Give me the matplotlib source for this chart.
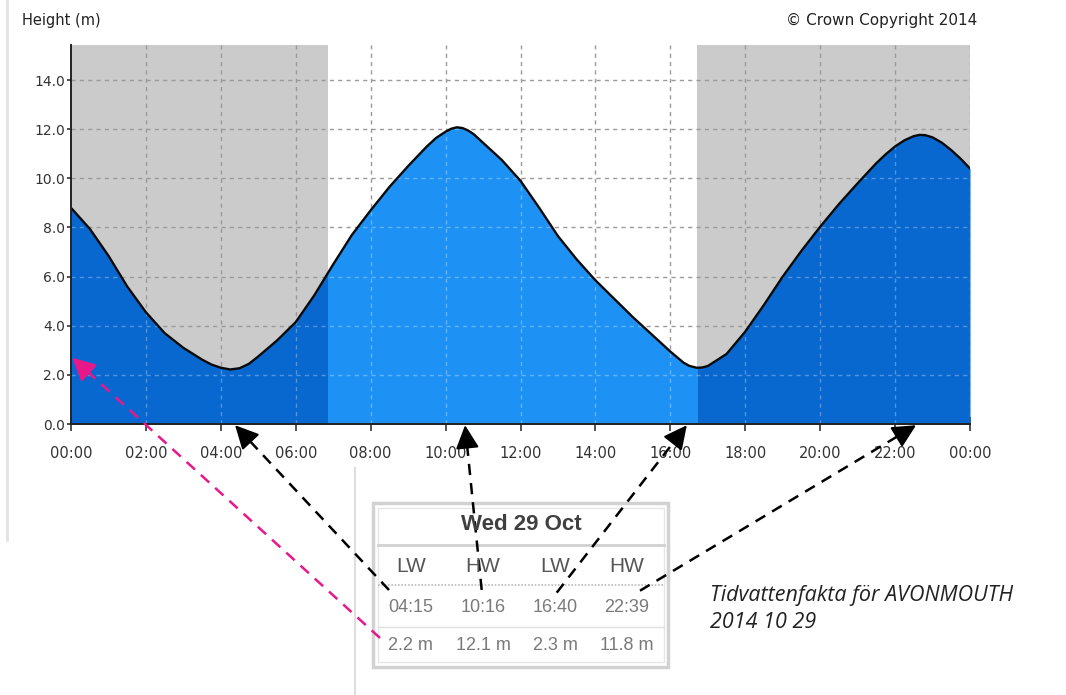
import matplotlib
matplotlib.use("Agg")
import matplotlib.pyplot as plt
from matplotlib.patches import Rectangle
import numpy as np

# ---------------- data ----------------
hours = [0, 0.5, 1, 1.5, 2, 2.5, 3, 3.5, 3.75, 4, 4.25, 4.5, 4.75, 5, 5.5, 6,
         6.5, 7, 7.5, 8, 8.5, 9, 9.5, 9.75, 10, 10.15, 10.3, 10.45, 10.6, 10.75,
         11, 11.5, 12, 12.5, 13, 13.5, 14, 14.5, 15, 15.5, 16, 16.35, 16.5,
         16.7, 16.85, 17, 17.5, 18, 18.5, 19, 19.5, 20, 20.5, 21, 21.5, 21.75,
         22, 22.25, 22.5, 22.65, 22.8, 23, 23.25, 23.5, 23.75, 24]
height = [8.8, 7.95, 6.85, 5.6, 4.55, 3.7, 3.1, 2.62, 2.42, 2.29, 2.22, 2.27,
          2.45, 2.75, 3.4, 4.15, 5.25, 6.5, 7.7, 8.7, 9.65, 10.5, 11.3, 11.65,
          11.9, 12.02, 12.08, 12.05, 11.95, 11.8, 11.45, 10.75, 9.9, 8.8, 7.65,
          6.7, 5.85, 5.1, 4.35, 3.65, 2.95, 2.5, 2.37, 2.29, 2.3, 2.36, 2.85,
          3.76, 4.85, 6.0, 7.05, 8.03, 8.95, 9.8, 10.62, 10.98, 11.3, 11.55,
          11.72, 11.77, 11.76, 11.67, 11.45, 11.15, 10.8, 10.4]
sunrise = 6.86
sunset = 16.71
x_ticks = list(range(0, 25, 2))
x_labels = ["00:00", "02:00", "04:00", "06:00", "08:00", "10:00", "12:00",
            "14:00", "16:00", "18:00", "20:00", "22:00", "00:00"]
y_ticks = [0, 2, 4, 6, 8, 10, 12, 14]

table_title = "Wed 29 Oct"
tide_types = ["LW", "HW", "LW", "HW"]
tide_times = ["04:15", "10:16", "16:40", "22:39"]
tide_heights = [2.2, 12.1, 2.3, 11.8]
# where the hand-drawn arrows point (hours on the time axis)
arrow_tips = [4.38, 10.52, 16.44, 22.56]
caption = "Tidvattenfakta för AVONMOUTH\n2014 10 29"

# ---------------- figure ----------------
W, H = 1066, 695
fig = plt.figure(figsize=(W / 100, H / 100), dpi=100)
fig.patch.set_facecolor("white")

ax_l, ax_r, ax_b, ax_t = 71, 970, 424, 45
ax = fig.add_axes([ax_l / W, 1 - ax_b / H, (ax_r - ax_l) / W, (ax_b - ax_t) / H])
ax.set_xlim(0, 24)
ax.set_ylim(0, 15.43)
ax.set_facecolor("white")

GRAY = "#cbcbcb"
DARK = "#0868cf"
LIGHT = "#1e92f4"

ax.axvspan(0, sunrise, color=GRAY, lw=0, zorder=1)
ax.axvspan(sunset, 24, color=GRAY, lw=0, zorder=1)

dash = (0, (3, 3))
for y in y_ticks[1:]:
    ax.axhline(y, color="#9a9a9a", lw=1, ls=dash, zorder=1.5)
for x in x_ticks[1:]:
    ax.axvline(x, color="#9a9a9a", lw=1, ls=dash, zorder=1.5)

dark = ax.fill_between(hours, height, 0, color=DARK, lw=0, zorder=2)
light = ax.fill_between(hours, height, 0, color=LIGHT, lw=0, zorder=2.1)
day = ax.axvspan(sunrise, sunset, color="none", lw=0)
light.set_clip_path(day)

wpath = dark.get_paths()[0]
for y in y_ticks[1:]:
    ln = ax.axhline(y, color="white", alpha=0.3, lw=1, ls=dash, zorder=2.5)
    ln.set_clip_path(wpath, dark.get_transform())
for x in x_ticks[1:]:
    ln = ax.axvline(x, color="white", alpha=0.3, lw=1, ls=dash, zorder=2.5)
    ln.set_clip_path(wpath, dark.get_transform())

ax.plot(hours, height, color="#0a0a0a", lw=1.7, zorder=3,
        solid_capstyle="round", solid_joinstyle="round")

for s in ["top", "right"]:
    ax.spines[s].set_visible(False)
for s in ["left", "bottom"]:
    ax.spines[s].set_color("#222")
    ax.spines[s].set_linewidth(1.4)
    ax.spines[s].set_zorder(4)

ax.set_xticks(x_ticks)
ax.set_xticklabels(x_labels)
ax.set_yticks(y_ticks)
ax.set_yticklabels([f"{v:.1f}" for v in y_ticks])
ax.tick_params(axis="x", direction="inout", length=10, width=1.2, color="#333",
               pad=11, labelsize=10.5, labelcolor="#333")
ax.tick_params(axis="y", direction="out", length=3, width=1.2, color="#333",
               pad=1.5, labelsize=10, labelcolor="#333")

# ---------------- overlay in pixel coordinates ----------------
ov = fig.add_axes([0, 0, 1, 1], zorder=10)
ov.set_xlim(0, W)
ov.set_ylim(H, 0)
ov.axis("off")
ov.patch.set_alpha(0)

ov.text(22, 20, "Height (m)", fontsize=10.5, color="#222", va="center", ha="left")
ov.text(977, 20, "© Crown Copyright 2014", fontsize=11, color="#222",
        va="center", ha="right")

ov.plot([7, 7], [0, 540], color="#e2e2e2", lw=2)
ov.plot([355, 355], [468, 695], color="#dedede", lw=1.5)

# table
ov.add_patch(Rectangle((373, 503), 295, 164, fill=False, ec="#d2d2d2", lw=2.5))
ov.add_patch(Rectangle((378, 508), 286, 154, fill=False, ec="#e6e6e6", lw=1))
ov.plot([378, 664], [545, 545], color="#d0d0d0", lw=2)
ov.plot([378, 664], [585, 585], color="#bdbdbd", lw=1.2, ls=(0, (1, 1)))
ov.plot([378, 664], [627, 627], color="#e0e0e0", lw=1)

col_x = [410.7, 483, 555, 626.7]
ov.text(521, 525, table_title, fontsize=16, fontweight="bold", color="#404040",
        family="Liberation Sans", ha="center", va="center")
for cx, t, tm, hm in zip(col_x, tide_types, tide_times, tide_heights):
    ov.text(cx, 567, t, fontsize=15, color="#555", family="Liberation Sans",
            ha="center", va="center")
    ov.text(cx, 607, tm, fontsize=13, color="#7a7a7a", family="Liberation Sans",
            ha="center", va="center")
    ov.text(cx, 645, f"{hm:.1f} m", fontsize=13, color="#7a7a7a",
            family="Liberation Sans", ha="center", va="center")

ov.text(710, 609, caption, fontsize=15.5, style="italic", color="#222",
        family="Open Sans", ha="left", va="center", linespacing=1.4)

# arrows: dashed shaft + solid head
fig.canvas.draw()
to_ov = ax.transData + ov.transData.inverted()


def dashed_arrow(start, tip_data, color):
    tx, ty = to_ov.transform(tip_data)
    sx, sy = start
    d = np.hypot(tx - sx, ty - sy)
    ux, uy = (tx - sx) / d, (ty - sy) / d
    head = 16
    bx, by = tx - ux * head, ty - uy * head
    ov.plot([sx, bx + ux * 3], [sy, by + uy * 3], color=color, lw=1.8,
            ls=(0, (4.5, 3.2)), solid_capstyle="butt", dash_capstyle="butt")
    ov.annotate("", xy=(tx, ty), xytext=(bx, by), annotation_clip=False,
                arrowprops=dict(arrowstyle="-|>,head_length=0.8,head_width=0.4",
                                color=color, lw=1.5, shrinkA=0, shrinkB=0,
                                mutation_scale=18))


starts = [(389, 590), (481.7, 590), (556.7, 592.7), (640, 590.7)]
for st, tip in zip(starts, arrow_tips):
    dashed_arrow(st, (tip, -0.05), "black")
dashed_arrow((380, 638), (0.03, 2.7), "#e8178a")

fig.savefig("out.png", dpi=100)
